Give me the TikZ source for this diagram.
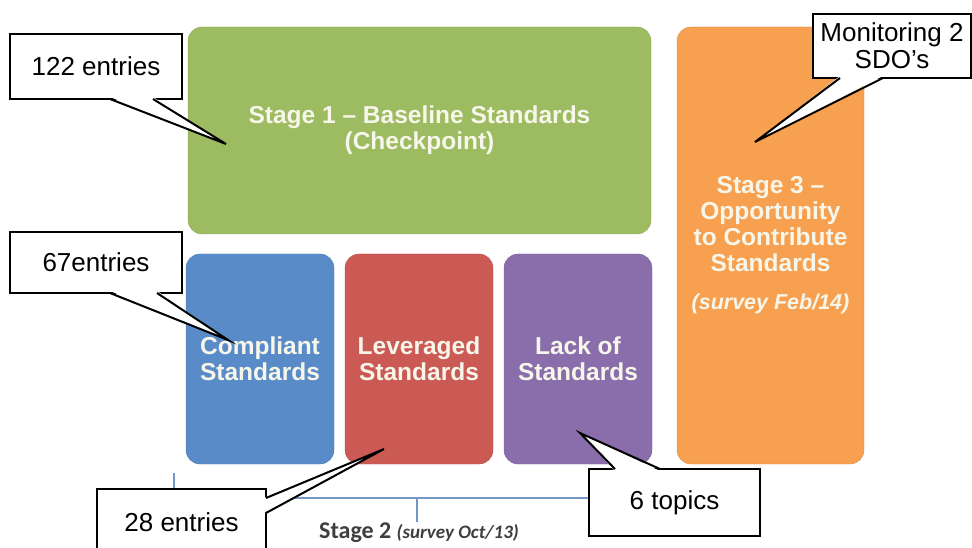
\documentclass[tikz,border=0pt]{standalone}
\usepackage{fontspec}
\setmainfont{Liberation Sans}
\newfontfamily\calibri{Carlito}
\usetikzlibrary{calc}

\definecolor{stgreen}{RGB}{157,187,97}
\definecolor{stblue}{RGB}{88,139,200}
\definecolor{stred}{RGB}{203,90,85}
\definecolor{stpurple}{RGB}{138,110,172}
\definecolor{storange}{RGB}{246,160,80}
\definecolor{boxtext}{RGB}{246,246,234}
\definecolor{bracecol}{RGB}{115,152,200}
\definecolor{labelgray}{RGB}{62,62,62}

\tikzset{
  stagebox/.style={rectangle, rounded corners=14pt, inner sep=0pt, outer sep=0pt,
    align=center, text=boxtext, font=\bfseries\fontsize{24.5}{26}\selectfont},
  callout/.style={rectangle, draw=black, fill=white, line width=2pt, inner sep=0pt,
    outer sep=0pt, align=center, font=\fontsize{26}{27}\selectfont},
  calloutline/.style={draw=black, line width=2pt},
  braceline/.style={draw=bracecol, line width=2pt}
}

\begin{document}
\begin{tikzpicture}[x=1pt, y=-1pt]
    \useasboundingbox (0,0) rectangle (972,548);

    % Stage boxes
    \node[stagebox, fill=stgreen, draw=stgreen!90!black, minimum width=463pt, minimum height=207pt]
      (stage1) at (419.5,130.5) {Stage 1 -- Baseline Standards\\(Checkpoint)};
    \node[stagebox, fill=stblue, draw=stblue!90!black, minimum width=148pt, minimum height=210pt]
      (comp) at (260,359) {Compliant\\Standards};
    \node[stagebox, fill=stred, draw=stred!90!black, minimum width=148pt, minimum height=210pt]
      (lever) at (419,359) {Leveraged\\Standards};
    \node[stagebox, fill=stpurple, draw=stpurple!90!black, minimum width=148pt, minimum height=210pt]
      (lack) at (578,359) {Lack of\\Standards};
    \node[stagebox, fill=storange, draw=storange!90!black, minimum width=187pt, minimum height=437pt]
      (stage3) at (770.5,245.5) {Stage 3 --\\Opportunity\\to Contribute\\Standards\\[12pt]
      {\itshape\fontsize{21.5}{24}\selectfont(survey Feb/14)}};

    % Stage 2 brace
    \coordinate (bl) at (174,473);
    \coordinate (br) at (660,473);
    \coordinate (bm) at (417,498);
    \coordinate (bt) at (417,522);
    \draw[braceline] (bl) |- (bm) -| (br);
    \draw[braceline] (bm) -- (bt);
    \node[text=labelgray, font=\calibri\bfseries\fontsize{24}{26}\selectfont] (s2) at (419,533)
      {Stage 2 {\itshape\fontsize{19}{20}\selectfont (survey Oct/13)}};

    % Callout 1
    \node[callout, minimum width=172pt, minimum height=65pt] (c122) at (96,66.5) {122 entries};
    \coordinate (t122) at (226,144);
    \fill[white] ([xshift=14pt,yshift=2pt]c122.south) -- (t122) -- ([xshift=57pt,yshift=2pt]c122.south) -- cycle;
    \draw[calloutline] ([xshift=14pt]c122.south) -- (t122) -- ([xshift=57pt]c122.south);

    % Callout 2
    \node[callout, minimum width=172pt, minimum height=61pt] (c67) at (96,262.5) {67entries};
    \coordinate (t67) at (228,340);
    \fill[white] ([xshift=14pt,yshift=2pt]c67.south) -- (t67) -- ([xshift=61pt,yshift=2pt]c67.south) -- cycle;
    \draw[calloutline] ([xshift=14pt]c67.south) -- (t67) -- ([xshift=61pt]c67.south);

    % Callout 3
    \node[callout, minimum width=169pt, minimum height=67pt] (c28) at (181.5,522.5) {28 entries};
    \coordinate (t28) at (384,449);
    \fill[white] ([xshift=-2pt,yshift=24.5pt]c28.east) -- (t28) -- ([xshift=-2pt,yshift=9.5pt]c28.east) -- cycle;
    \draw[calloutline] ([yshift=24.5pt]c28.east) -- (t28) -- ([yshift=9.5pt]c28.east);

    % Callout 4
    \node[callout, minimum width=171pt, minimum height=67pt] (c6) at (674.5,502.5) {6 topics};
    \coordinate (t6) at (580,433);
    \fill[white] ([xshift=-59.5pt,yshift=-2pt]c6.north) -- (t6) -- ([xshift=-14.5pt,yshift=-2pt]c6.north) -- cycle;
    \draw[calloutline] ([xshift=-59.5pt]c6.north) -- (t6) -- ([xshift=-14.5pt]c6.north);

    % Callout 5
    \node[callout, minimum width=158pt, minimum height=64pt] (cmon) at (892,46) {Monitoring 2\\SDO's};
    \coordinate (tmon) at (755,142);
    \fill[white] ([xshift=-52pt,yshift=2pt]cmon.south) -- (tmon) -- ([xshift=-9pt,yshift=2pt]cmon.south) -- cycle;
    \draw[calloutline] ([xshift=-52pt]cmon.south) -- (tmon) -- ([xshift=-9pt]cmon.south);

\end{tikzpicture}
\end{document}
